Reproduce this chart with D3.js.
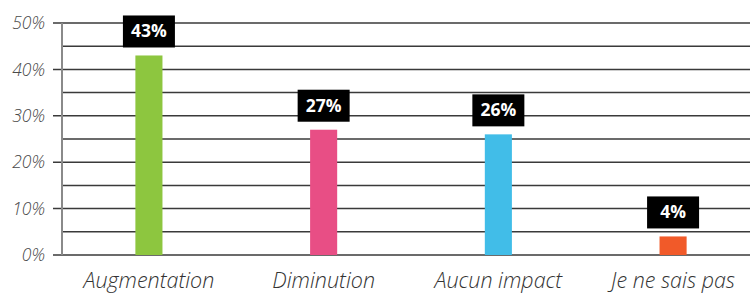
<!DOCTYPE html>
<html>
<head>
<meta charset="utf-8">
<script src="https://cdn.jsdelivr.net/npm/d3@7"></script>
<style>
  body { margin: 0; background: #fff; }
  svg { display: block; }
</style>
</head>
<body>
<div id="chart"></div>
<script>
// Data
var categories = ["Augmentation", "Diminution", "Aucun impact", "Je ne sais pas"];
var values = [43, 27, 26, 4];
var barColors = ["#8dc63f", "#e84e85", "#41bde8", "#f15a29"];
var tickValues = [0, 10, 20, 30, 40, 50];
var gridValues = [0, 5, 10, 15, 20, 25, 30, 35, 40, 45, 50];

var svgWidth = 750;
var svgHeight = 295;

var margin = { top: 23, right: -10, bottom: 40, left: 62 };
var chartWidth = svgWidth - margin.left - margin.right;
var chartHeight = svgHeight - margin.top - margin.bottom;

var svg = d3.select("#chart")
  .append("svg")
  .attr("width", svgWidth)
  .attr("height", svgHeight);

var chartGroup = svg.append("g")
  .attr("transform", `translate(${margin.left}, ${margin.top})`);

var data = categories.map((c, i) => ({ cat: c, value: values[i], color: barColors[i] }));

var xScale = d3.scaleBand()
  .domain(categories)
  .range([0, chartWidth])
  .paddingInner(0.845)
  .paddingOuter(0.42);

var yScale = d3.scaleLinear()
  .domain([0, 50])
  .range([chartHeight, 0]);

// gridlines
chartGroup.append("g")
  .selectAll("line")
  .data(gridValues)
  .enter()
  .append("line")
  .attr("x1", d => tickValues.includes(d) ? -9 : 0)
  .attr("x2", svgWidth)
  .attr("y1", d => yScale(d))
  .attr("y2", d => yScale(d))
  .attr("stroke", "#3a3a3a")
  .attr("stroke-width", 1.5);

// y axis labels
var leftAxis = d3.axisLeft(yScale)
  .tickValues(tickValues)
  .tickFormat(d => d + "%")
  .tickSize(0)
  .tickPadding(17);

var yAxis = chartGroup.append("g").call(leftAxis);
yAxis.select(".domain").remove();
yAxis.selectAll("text")
  .attr("font-family", "'Open Sans', sans-serif")
  .attr("font-weight", 300)
  .attr("font-style", "italic")
  .attr("font-size", "17.5px")
  .attr("fill", "#4a4a4a");

// vertical axis line
chartGroup.append("line")
  .attr("x1", 0)
  .attr("x2", 0)
  .attr("y1", yScale(50))
  .attr("y2", yScale(0))
  .attr("stroke", "#8a8a8a")
  .attr("stroke-width", 2);

// bars
chartGroup.selectAll(".bar")
  .data(data)
  .enter()
  .append("rect")
  .attr("class", "bar")
  .attr("x", d => xScale(d.cat))
  .attr("y", d => yScale(d.value))
  .attr("width", xScale.bandwidth())
  .attr("height", d => yScale(0) - yScale(d.value))
  .attr("fill", d => d.color);

// value labels
var labels = chartGroup.selectAll(".lbl")
  .data(data)
  .enter()
  .append("g")
  .attr("class", "lbl")
  .attr("transform", d => `translate(${xScale(d.cat) + xScale.bandwidth() / 2}, ${yScale(d.value) - 8})`);

labels.append("rect")
  .attr("x", -26)
  .attr("y", -32)
  .attr("width", 52)
  .attr("height", 32)
  .attr("fill", "#000");

labels.append("text")
  .attr("text-anchor", "middle")
  .attr("y", -10)
  .attr("font-family", "'Open Sans', sans-serif")
  .attr("font-weight", 700)
  .attr("font-size", "17.5px")
  .attr("fill", "#fff")
  .text(d => d.value + "%");

// category labels
var bottomAxis = d3.axisBottom(xScale).tickSize(0).tickPadding(18);
var xAxis = chartGroup.append("g")
  .attr("transform", `translate(0, ${chartHeight})`)
  .call(bottomAxis);
xAxis.select(".domain").remove();
xAxis.selectAll("text")
  .attr("font-family", "'Open Sans', sans-serif")
  .attr("font-weight", 300)
  .attr("font-style", "italic")
  .attr("font-size", "21.5px")
  .attr("fill", "#333");
</script>
</body>
</html>
